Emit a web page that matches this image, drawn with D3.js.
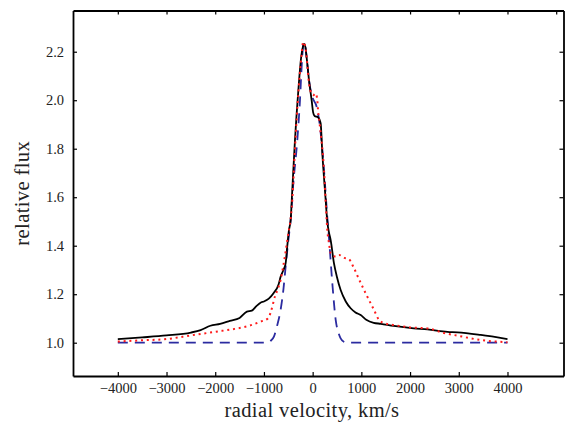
<!DOCTYPE html>
<html><head><meta charset="utf-8">
<script src="https://cdn.jsdelivr.net/npm/d3@7"></script>
<style>
html,body{margin:0;padding:0;background:#fff;}
svg{display:block;}
text{font-family:"Liberation Serif","Times New Roman",serif;fill:#222;}
</style></head>
<body>
<svg id="chart" width="565" height="430"></svg>
<script>
// Observed profile (black solid)
const obsV = [-4000,-3500,-3000,-2500,-2300,-2100,-1900,-1700,-1500,-1350,-1250,-1150,-1070,-1000,-900,-800,-700,-658,-600,-555,-520,-486,-452,-418,-363,-294,-240,-200,-178,-150,-120,-75,-21,10,40,110,164,199,247,267,300,335,370,438,500,575,680,780,880,986,1100,1253,1400,1664,2075,2356,2767,2973,3451,4000];
const obsF = [1.015,1.022,1.030,1.042,1.052,1.070,1.078,1.090,1.102,1.128,1.132,1.152,1.165,1.170,1.182,1.205,1.240,1.272,1.300,1.327,1.400,1.465,1.505,1.630,1.836,2.040,2.170,2.220,2.232,2.220,2.170,2.083,2.000,1.950,1.935,1.930,1.905,1.780,1.643,1.590,1.500,1.455,1.423,1.327,1.270,1.217,1.170,1.142,1.125,1.114,1.095,1.082,1.078,1.069,1.059,1.055,1.045,1.043,1.032,1.015];
// Model with broad component (red dotted)
const modV = [-4000,-3500,-3000,-2500,-2000,-1600,-1300,-1070,-920,-820,-795,-700,-658,-600,-520,-417,-363,-294,-240,-192,-150,-120,-75,-30,14,62,96,110,151,233,288,301,336,370,473,541,650,746,849,951,1054,1157,1260,1362,1465,1671,2000,2356,2700,3000,3451,4000];
const modF = [1.005,1.010,1.015,1.030,1.045,1.057,1.070,1.087,1.100,1.155,1.176,1.230,1.259,1.320,1.424,1.590,1.800,2.030,2.160,2.240,2.220,2.170,2.070,2.030,2.021,2.028,2.000,1.960,1.890,1.712,1.505,1.465,1.410,1.369,1.355,1.362,1.350,1.344,1.307,1.262,1.218,1.176,1.135,1.094,1.081,1.073,1.063,1.059,1.040,1.028,1.011,1.002];
// Narrow component (blue dashed)
const narV = [-4000,-1000,-932,-860,-795,-730,-658,-600,-555,-500,-452,-400,-315,-260,-220,-185,-150,-120,-75,0,82,151,233,300,336,404,473,540,575,640,712,4000];
const narF = [1.000,1.000,1.000,1.008,1.025,1.070,1.135,1.220,1.313,1.420,1.506,1.650,1.836,2.000,2.160,2.235,2.220,2.170,2.083,2.010,1.973,1.890,1.712,1.520,1.430,1.245,1.094,1.035,1.018,1.004,1.000,1.000];

const xTicksBottom = [-4000,-3000,-2000,-1000,0,1000,2000,3000,4000];
const xTicksTop = [-4000,-3000,-2000,-1000,0,1000,2000,3000,4000,5000];
const yTicks = [1.0,1.2,1.4,1.6,1.8,2.0,2.2];
const xTitle = "radial velocity, km/s";
const yTitle = "relative flux";

const svg = d3.select("#chart");
const L = 73, R = 563.5, T = 10.5, B = 376;
const x = d3.scaleLinear().domain([-4920, 5150]).range([L, R]);
const y = d3.scaleLinear().domain([0.8627, 2.370]).range([B, T]);

const zip = (vs, fs) => vs.map((v, i) => [v, fs[i]]);
const line = d3.line().x(d => x(d[0])).y(d => y(d[1])).curve(d3.curveMonotoneX);

svg.append("path").datum(zip(narV, narF)).attr("d", line)
  .attr("fill", "none").attr("stroke", "#2b2ba0").attr("stroke-width", 1.8)
  .attr("stroke-dasharray", "10,7");
svg.append("path").datum(zip(obsV, obsF)).attr("d", line)
  .attr("fill", "none").attr("stroke", "#000").attr("stroke-width", 1.8);
svg.append("path").datum(zip(modV, modF)).attr("d", line)
  .attr("fill", "none").attr("stroke", "#ff1a1a").attr("stroke-width", 2)
  .attr("stroke-dasharray", "2,3.8");

// axes with inward ticks
const fmtX = d => d < 0 ? "\u2212" + Math.abs(d) : String(d);
const gB = svg.append("g").attr("transform", `translate(0,${B})`)
  .call(d3.axisBottom(x).tickValues(xTicksBottom).tickSizeInner(-4).tickSizeOuter(0).tickPadding(7).tickFormat(fmtX));
const gT = svg.append("g").attr("transform", `translate(0,${T})`)
  .call(d3.axisTop(x).tickValues(xTicksTop).tickSizeInner(-4).tickSizeOuter(0).tickFormat(""));
const gL = svg.append("g").attr("transform", `translate(${L},0)`)
  .call(d3.axisLeft(y).tickValues(yTicks).tickSizeInner(-4).tickSizeOuter(0).tickPadding(9).tickFormat(d3.format(".1f")));
const gR = svg.append("g").attr("transform", `translate(${R},0)`)
  .call(d3.axisRight(y).tickValues(yTicks).tickSizeInner(-4).tickSizeOuter(0).tickFormat(""));

[gB, gT, gL, gR].forEach(g => {
  g.select(".domain").attr("stroke", "#000").attr("stroke-width", 1.8);
  g.selectAll(".tick line").attr("stroke", "#000").attr("stroke-width", 1.2);
  g.selectAll(".tick text").attr("font-size", 14.5).attr("fill", "#222")
    .attr("font-family", '"Liberation Serif","Times New Roman",serif');
});
gB.selectAll(".tick text").attr("dy", "0.71em");

svg.append("text").attr("x", 312).attr("y", 417)
  .attr("text-anchor", "middle").attr("font-size", 20.5).attr("letter-spacing", 0.4).text(xTitle);
svg.append("text").attr("transform", `translate(29,${(T + B) / 2}) rotate(-90)`)
  .attr("text-anchor", "middle").attr("font-size", 20.5).attr("letter-spacing", 0.4).text(yTitle);
</script>
</body></html>
